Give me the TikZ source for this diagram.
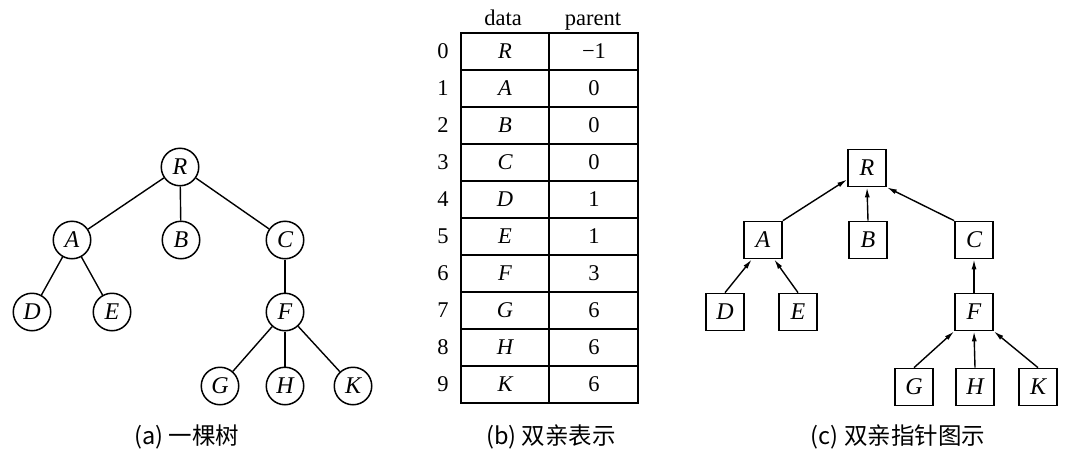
\documentclass[tikz,border=0pt]{standalone}
\usepackage{fontspec}
\setmainfont{Liberation Serif}
\newfontfamily\cjk{Noto Sans CJK SC}
\usetikzlibrary{arrows.meta}
\begin{document}
\begin{tikzpicture}[x=1pt,y=-1pt,
  cnode/.style={circle,draw,line width=1.5pt,minimum size=37.5pt,inner sep=0pt,font=\fontsize{24}{24}\selectfont\itshape},
  bnode/.style={rectangle,draw,line width=1.7pt,minimum width=38pt,minimum height=37pt,inner sep=0pt,font=\fontsize{24}{24}\selectfont\itshape},
  edge/.style={line width=1.4pt},
  ptr/.style={line width=1.4pt,-{Latex[length=10pt,width=5pt]}},
  captxt/.style={font=\cjk\fontsize{23.5}{24}\selectfont,inner sep=0pt},
  tbl/.style={font=\fontsize{22.5}{22}\selectfont,inner sep=0pt},
  tline/.style={line width=1.6pt},
]
\useasboundingbox (0,0) rectangle (1065,463);

% ---------- (a) tree ----------
\node[cnode] (aR) at (180,167) {R};
\node[cnode] (aA) at (72,240) {A};
\node[cnode] (aB) at (181,240) {B};
\node[cnode] (aC) at (285,240) {C};
\node[cnode] (aD) at (32,312) {D};
\node[cnode] (aE) at (112,312) {E};
\node[cnode] (aF) at (285,312) {F};
\node[cnode] (aG) at (220,386) {G};
\node[cnode] (aH) at (285,386) {H};
\node[cnode] (aK) at (353,386) {K};
\draw[edge] (aR) -- (aA);
\draw[edge] (aR) -- (aB);
\draw[edge] (aR) -- (aC);
\draw[edge] (aA) -- (aD);
\draw[edge] (aA) -- (aE);
\draw[edge] (aC) -- (aF);
\draw[edge] (aF) -- (aG);
\draw[edge] (aF) -- (aH);
\draw[edge] (aF) -- (aK);
\node[captxt] (capa) at (187,437) {(a) 一棵树};

% ---------- (b) table ----------
\node[tbl,anchor=base] (hdata) at (503,25) {data};
\node[tbl,anchor=base] (hpar) at (593,25) {parent};
\draw[tline] (460.7,32.7) rectangle (638,403);
\draw[tline] (549,32.7) -- (549,403);
\foreach \i in {1,...,9} {
  \draw[tline] (460.7,{32.7+37.03*\i}) -- (638,{32.7+37.03*\i});
}
\foreach \i/\d/\p in {0/R/−1,1/A/0,2/B/0,3/C/0,4/D/1,5/E/1,6/F/3,7/G/6,8/H/6,9/K/6} {
  \node[tbl] (idx\i) at (443,{32.7+37.03*(\i+0.5)}) {\i};
  \node[tbl,font=\fontsize{22.5}{22}\selectfont\itshape] (dat\i) at (505,{32.7+37.03*(\i+0.5)}) {\d};
  \node[tbl] (par\i) at (594,{32.7+37.03*(\i+0.5)}) {\p};
}
\node[captxt] (capb) at (551,437) {(b) 双亲表示};

% ---------- (c) parent pointers ----------
\node[bnode] (R) at (867,168) {R};
\node[bnode] (A) at (763,240) {A};
\node[bnode] (B) at (868,240) {B};
\node[bnode] (C) at (974,240) {C};
\node[bnode] (D) at (725,312) {D};
\node[bnode] (E) at (798,312) {E};
\node[bnode] (F) at (974,312) {F};
\node[bnode] (G) at (914,387) {G};
\node[bnode] (H) at (975,387) {H};
\node[bnode] (K) at (1038,387) {K};
\draw[ptr] (D.north) -- (A.-120);
\draw[ptr] (E.north) -- (A.-60);
\draw[ptr] (A.north east) -- (R.-150);
\draw[ptr] (B.north) -- (R.south);
\draw[ptr] (C.north west) -- (R.south east);
\draw[ptr] (F.north) -- (C.south);
\draw[ptr] (G.north) -- (F.south west);
\draw[ptr] (H.north) -- (F.south);
\draw[ptr] (K.north) -- (F.south east);
\node[captxt] (capc) at (898,437) {(c) 双亲指针图示};
\end{tikzpicture}
\end{document}
